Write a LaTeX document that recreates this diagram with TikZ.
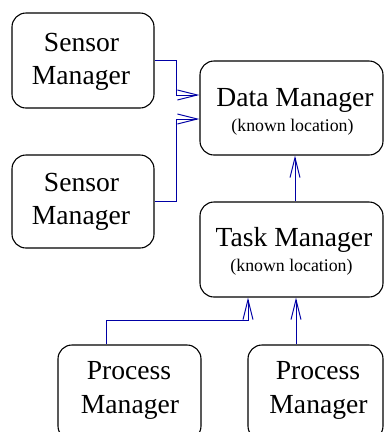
\documentclass[tikz,border=0pt]{standalone}
\usepackage{fontspec}
\setmainfont{Liberation Serif}
\usetikzlibrary{arrows.meta}
\definecolor{linkblue}{RGB}{0,0,165}
\begin{document}
\begin{tikzpicture}[x=1pt,y=-1pt,
  box/.style={draw, line width=1.1pt, rounded corners=14pt, inner sep=0pt},
  lbl/.style={anchor=base, inner sep=0pt, font=\fontsize{27.6}{33}\selectfont},
  sublbl/.style={anchor=base, inner sep=0pt, font=\fontsize{17.8}{20}\selectfont},
  conn/.style={draw=linkblue, line width=1pt,
    -{Straight Barb[length=20pt,width=10pt,line width=1pt]}}]
\clip (0,0) rectangle (385,432);
\useasboundingbox (0,0) rectangle (385,432);

% manager boxes
\node[box, minimum width=142pt, minimum height=95pt] (s1) at (83,60.5) {};
\node[box, minimum width=142pt, minimum height=93pt] (s2) at (83,201.5) {};
\node[box, minimum width=183pt, minimum height=94pt] (dm) at (291.5,108) {};
\node[box, minimum width=183pt, minimum height=95pt] (tm) at (291.5,249.5) {};
\node[box, minimum width=143pt, minimum height=95pt] (p1) at (129.5,392.5) {};
\node[box, minimum width=135pt, minimum height=95pt] (p2) at (315.5,392.5) {};

% box texts
\node[lbl] (s1a) at (81.5,51.5) {Sensor};
\node[lbl] (s1b) at (81,84.5) {Manager};
\node[lbl] (s2a) at (81.5,191.7) {Sensor};
\node[lbl] (s2b) at (81,224.7) {Manager};
\node[lbl] (dma) at (295,106.7) {Data Manager};
\node[sublbl] (dmb) at (292.5,131.7) {(known location)};
\node[lbl] (tma) at (294,246.7) {Task Manager};
\node[sublbl] (tmb) at (291.5,271.7) {(known location)};
\node[lbl] (p1a) at (129,379.5) {Process};
\node[lbl] (p1b) at (130,413) {Manager};
\node[lbl] (p2a) at (318,379.5) {Process};
\node[lbl] (p2b) at (318.5,413) {Manager};

% links
\draw[conn] (s1.east) -- ++(22,0) |- ([yshift=13pt]dm.west);
\draw[conn] (s2.east) -- ++(22,0) |- ([yshift=-11pt]dm.west);
\draw[conn] ([xshift=3.5pt]tm.north) -- ([xshift=3.5pt]dm.south);
\draw[conn] ([xshift=-23.5pt]p1.north) -- ++(0,-24) -| ([xshift=-43.5pt]tm.south);
\draw[conn] ([xshift=-19.5pt]p2.north) coordinate (a) -- (a |- tm.south);
\end{tikzpicture}
\end{document}
